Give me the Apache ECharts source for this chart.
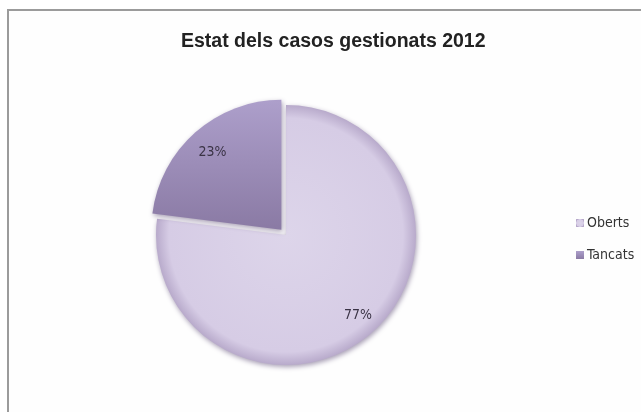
<!DOCTYPE html>
<html>
<head>
<meta charset="utf-8">
<script src="https://cdn.jsdelivr.net/npm/echarts@6/dist/echarts.min.js"></script>
<style>
html,body{margin:0;padding:0;background:#fff;}
#chart{width:641px;height:412px;}
</style>
</head>
<body>
<div id="chart"></div>
<script>
const titleText = 'Estat dels casos gestionats 2012';
const categories = ['Oberts', 'Tancats'];
const values = [77, 23];

const colors = [
  {type:'radial', x:0.5, y:0.5, r:0.5, colorStops:[
    {offset:0, color:'#ddd5ea'}, {offset:0.9, color:'#d6cce5'}, {offset:1, color:'#b8aacb'}]},
  {type:'linear', x:0, y:0, x2:0, y2:1, colorStops:[
    {offset:0, color:'#ad9fcb'}, {offset:1, color:'#8a7aa4'}]}
];
const labelShift = [[27, 29], [-24, -26]];

const chart = echarts.init(document.getElementById('chart'), null, {renderer:'canvas'});
chart.setOption({
  animation: false,
  graphic: [{
    type: 'rect', z: -10, silent: true,
    shape: {x: 8, y: 10, width: 700, height: 500},
    style: {fill: '#fefefe', stroke: '#9b9b9b', lineWidth: 2}
  }],
  title: {
    text: titleText,
    left: 176,
    top: 27,
    textStyle: {fontFamily: 'Liberation Sans, Arial, sans-serif', fontSize: 19.5, fontWeight: 'bold', color: '#222'}
  },
  legend: {
    orient: 'vertical',
    left: 571,
    top: 211,
    itemWidth: 8,
    itemHeight: 8,
    itemGap: 18,
    icon: 'rect',
    selectedMode: false,
    textStyle: {fontFamily: 'Liberation Sans Narrow, DejaVu Sans Condensed, sans-serif', fontSize: 14, color: '#333', padding: [0,0,0,-2]},
    data: categories
  },
  series: [{
    type: 'pie',
    center: [286, 235],
    radius: 130,
    startAngle: 90,
    clockwise: true,
    selectedMode: 'multiple',
    selectedOffset: 7,
    emphasis: {disabled: true},
    select: {itemStyle: {borderWidth: 0}},
    itemStyle: {borderWidth: 0, shadowBlur: 5, shadowColor: 'rgba(60,40,90,0.45)', shadowOffsetX: 1, shadowOffsetY: 2},
    label: {
      position: 'inside',
      fontFamily: 'Liberation Sans Narrow, DejaVu Sans Condensed, sans-serif',
      fontSize: 14,
      color: '#3a3345',
      formatter: p => Math.round(p.percent) + '%'
    },
    labelLine: {show: false},
    labelLayout: p => ({dx: labelShift[p.dataIndex][0], dy: labelShift[p.dataIndex][1]}),
    data: categories.map((c, i) => ({
      name: c, value: values[i], selected: i === 1,
      itemStyle: {color: colors[i]}
    }))
  }]
});
</script>
</body>
</html>
